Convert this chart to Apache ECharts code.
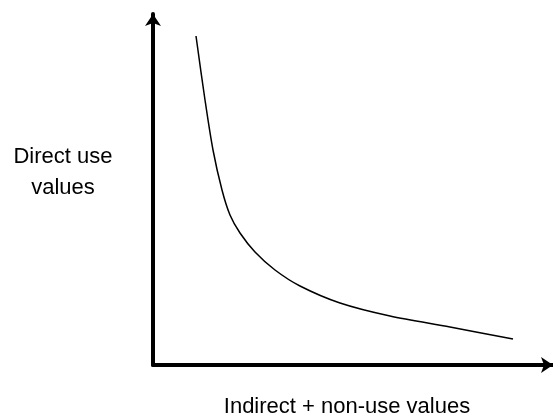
<!DOCTYPE html>
<html>
<head>
<meta charset="utf-8">
<script src="https://cdn.jsdelivr.net/npm/echarts@6/dist/echarts.min.js"></script>
<style>
  html, body { margin: 0; padding: 0; background: #fff; }
  #chart { width: 553px; height: 419px; }
</style>
</head>
<body>
<div id="chart"></div>
<script>
// curve (arbitrary units, no scale shown)
const indirectVals = [43, 52, 60, 69, 77, 87, 102, 122, 147, 187, 237, 297, 360];
const directVals   = [329, 265, 215, 175, 150, 132, 113, 95, 79, 62, 49, 38, 26];

const xLabel = "Indirect + non-use values";
const yLabel = "Direct use\nvalues";

const chart = echarts.init(document.getElementById("chart"));

chart.setOption({
  animation: false,
  grid: { left: 153, right: 0, top: 14, bottom: 54 },
  xAxis: {
    type: "value",
    min: 0,
    max: 400,
    axisLine: {
      lineStyle: { color: "#000", width: 4 },
      symbol: ["none", "arrow"],
      symbolSize: [12, 12]
    },
    axisTick: { show: false },
    axisLabel: { show: false },
    splitLine: { show: false }
  },
  yAxis: {
    type: "value",
    min: 0,
    max: 351,
    axisLine: {
      show: true,
      lineStyle: { color: "#000", width: 4 },
      symbol: ["none", "arrow"],
      symbolSize: [12, 12]
    },
    axisTick: { show: false },
    axisLabel: { show: false },
    splitLine: { show: false }
  },
  graphic: [
    {
      type: "text",
      x: 63,
      y: 172,
      style: {
        text: yLabel,
        textAlign: "center",
        textVerticalAlign: "middle",
        font: "22px 'Liberation Sans', Arial, sans-serif",
        lineHeight: 31,
        fill: "#000"
      }
    },
    {
      type: "text",
      x: 347,
      y: 407,
      style: {
        text: xLabel,
        textAlign: "center",
        textVerticalAlign: "middle",
        font: "22px 'Liberation Sans', Arial, sans-serif",
        fill: "#000"
      }
    }
  ],
  series: [{
    type: "line",
    smooth: 0.3,
    showSymbol: false,
    data: indirectVals.map((x, i) => [x, directVals[i]]),
    lineStyle: { color: "#000", width: 1.5 }
  }]
});
</script>
</body>
</html>
